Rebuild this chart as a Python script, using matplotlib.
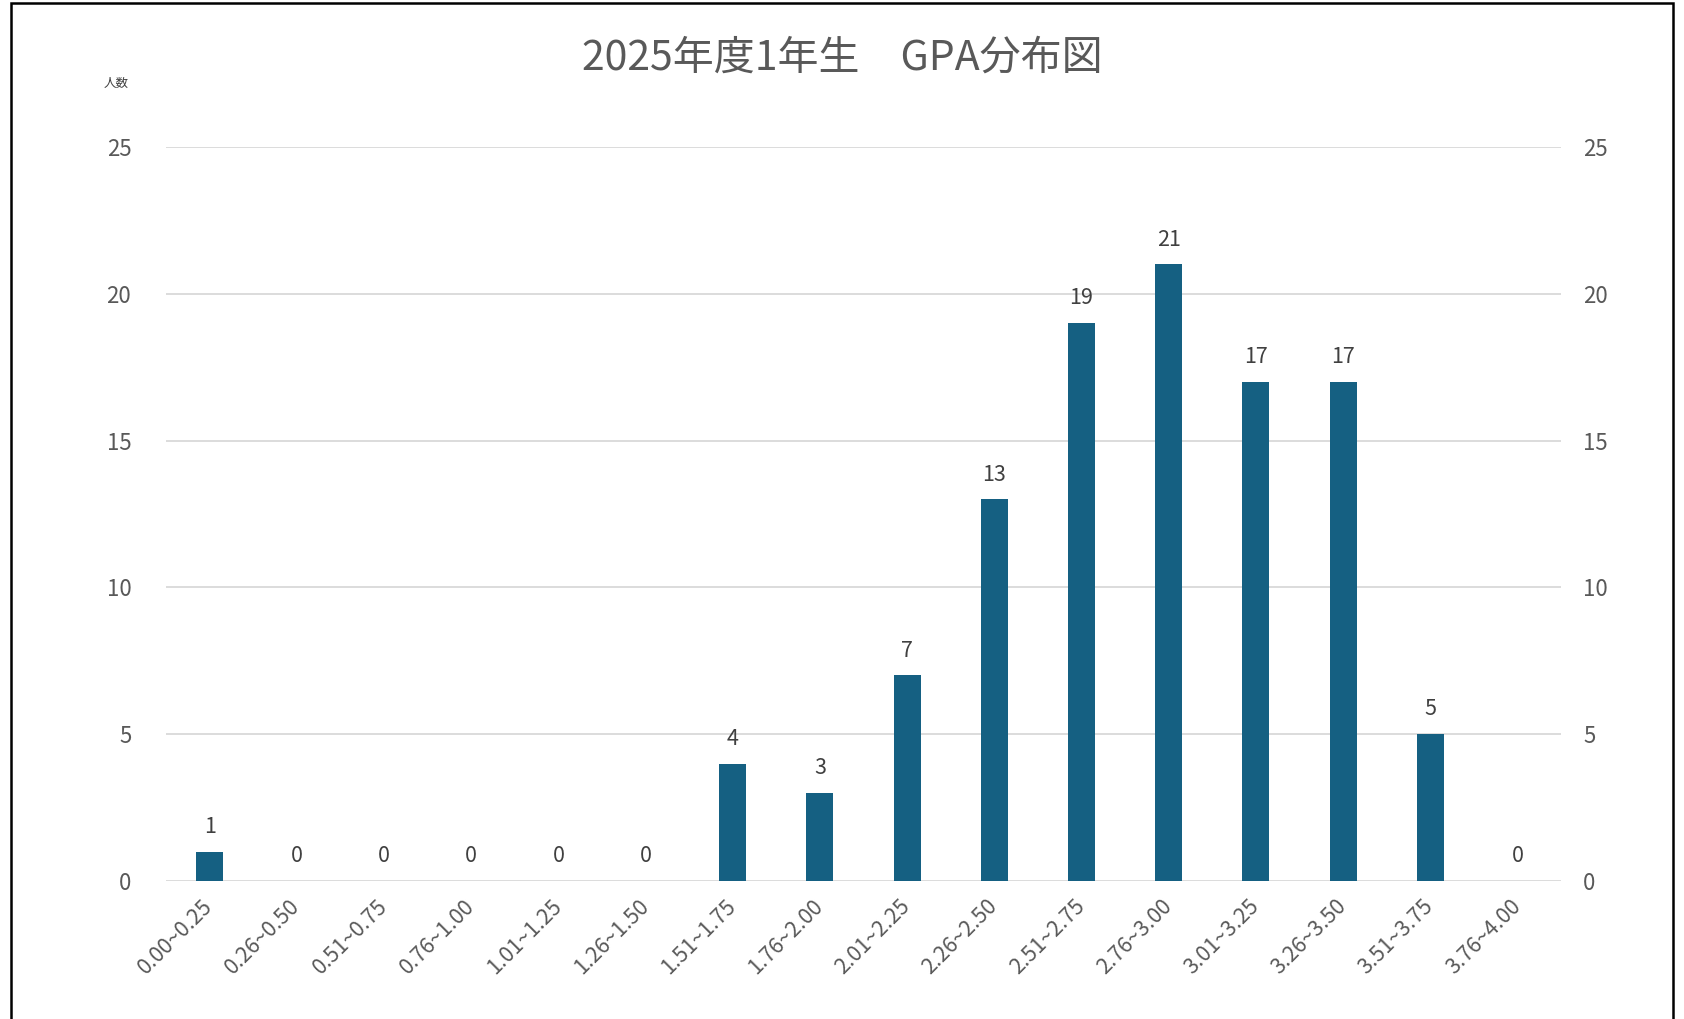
import matplotlib.pyplot as plt
from matplotlib.patches import Rectangle

plt.rcParams['font.family'] = ['Noto Sans CJK JP', 'DejaVu Sans']

# GPA bins and number of students
categories = ["0.00~0.25", "0.26~0.50", "0.51~0.75", "0.76~1.00",
              "1.01~1.25", "1.26~1.50", "1.51~1.75", "1.76~2.00",
              "2.01~2.25", "2.26~2.50", "2.51~2.75", "2.76~3.00",
              "3.01~3.25", "3.26~3.50", "3.51~3.75", "3.76~4.00"]
counts = [1, 0, 0, 0, 0, 0, 4, 3, 7, 13, 19, 21, 17, 17, 5, 0]
yticks = [0, 5, 10, 15, 20, 25]

title = "2025年度1年生\u3000GPA分布図"
ylabel = "人数"

bar_color = "#156082"
grid_color = "#D9D9D9"
tick_color = "#595959"
label_color = "#404040"

fig = plt.figure(figsize=(16.84, 10.19), dpi=100)
ax = fig.add_axes([166/1684, 1 - 881/1019, (1561 - 166)/1684, (881 - 147)/1019])

x = list(range(len(categories)))
ax.bar(x, counts, width=0.31, color=bar_color, zorder=3)

for xi, c in zip(x, counts):
    ax.annotate(str(c), (xi, c), xytext=(0, 13.5), textcoords="offset points",
                ha="center", va="baseline", fontsize=15.5, color=label_color)

ax.set_xlim(-0.5, len(categories) - 0.5)
ax.set_ylim(0, 25)
ax.set_yticks(yticks)
ax.yaxis.grid(True, color=grid_color, linewidth=1.3, zorder=0)
ax.set_axisbelow(True)
for s in ax.spines.values():
    s.set_visible(False)

ax.set_xticks(x)
ax.set_xticklabels(categories, rotation=45, ha="right", va="center",
                   rotation_mode="anchor", fontsize=15.5, color=tick_color)
ax.tick_params(axis="x", length=0, pad=16)
ax.tick_params(axis="y", length=0, pad=25, labelsize=16, labelcolor=tick_color)

ax2 = ax.twinx()
ax2.set_ylim(0, 25)
ax2.set_yticks(yticks)
for s in ax2.spines.values():
    s.set_visible(False)
ax2.tick_params(axis="y", length=0, pad=16, labelsize=16, labelcolor=tick_color)

fig.text(842/1684, 1 - 58/1019, title, ha="center", va="center",
         fontsize=29.5, color=tick_color)
fig.text(116/1684, 1 - 83/1019, ylabel, ha="center", va="center",
         fontsize=9, color=label_color)

# outer frame
fig.add_artist(Rectangle((11/1684, -0.05), (1673 - 11)/1684, 1.05 - 3/1019,
                         transform=fig.transFigure, fill=False,
                         edgecolor="black", linewidth=1.8, clip_on=False))

fig.savefig("out.png", dpi=100, facecolor="white")
